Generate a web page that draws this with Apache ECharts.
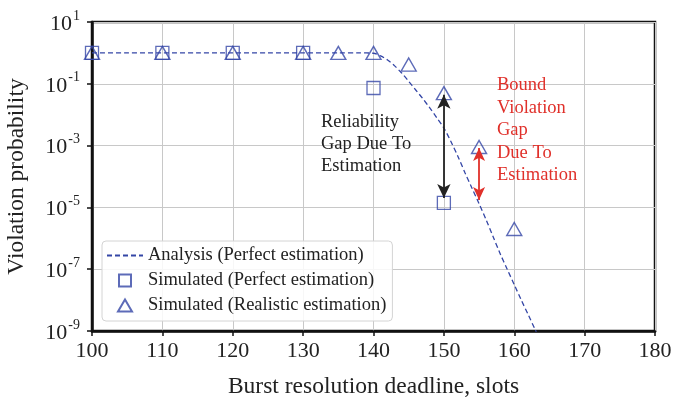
<!DOCTYPE html>
<html>
<head>
<meta charset="utf-8">
<script src="https://cdn.jsdelivr.net/npm/echarts@6/dist/echarts.min.js"></script>
<style>
html,body{margin:0;padding:0;background:#fff;}
#chart{width:674px;height:399px;}
</style>
</head>
<body>
<div id="chart"></div>
<script>
// ---- data ----
const analysisX = [100,105,110,115,120,125,130,135,138,139,140,141,142,143,144,145,146,147,148,149,150,151,152,153,154,155,156,157,158,159,160,161,162,163,164];
const analysisY = [1,1,1,1,1,1,1,1,1,0.995,0.975,0.80,0.59,0.38,0.224,0.12,0.0631,0.0331,0.0166,0.00794,0.00372,0.00135,4.47e-4,1.32e-4,4.17e-5,1.32e-5,3.98e-6,1.12e-6,3.16e-7,1.0e-7,3.16e-8,1.0e-8,3.31e-9,1.07e-9,3.5e-10];
const perfectX = [100,110,120,130,140,150];
const perfectY = [1,1,1,1,0.073,1.4e-5];
const realX = [100,110,120,130,135,140,145,150,155,160];
const realY = [1,1,1,1,1,1,0.42,0.05,9.0e-4,2.0e-6];
const gapBlack = [[150,0.044],[150,2.0e-5]];
const gapRed = [[155,8.3e-4],[155,1.75e-5]];
const xTicks = [100,110,120,130,140,150,160,170,180];
const yExponents = ['1','-1','-3','-5','-7','-9'];
const seriesNames = ['Analysis (Perfect estimation)','Simulated (Perfect estimation)','Simulated (Realistic estimation)'];
const textBlack = ['Reliability','Gap Due To','Estimation'];
const textRed = ['Bound','Violation','Gap','Due To','Estimation'];

const BLUE = '#3446a6';
const FONT = '"Liberation Serif","DejaVu Serif",serif';

const chart = echarts.init(document.getElementById('chart'), null, {renderer:'canvas'});
const zip = (xs, ys) => xs.map((x,i)=>[x, ys[i]]);

const option = {
  animation: false,
  backgroundColor: '#fff',
  textStyle: {fontFamily: FONT},
  grid: {left: 92, right: 19, top: 22, bottom: 68, containLabel: false, outerBoundsMode: 'none',
         show: true, borderColor: '#111', borderWidth: 2.5, backgroundColor: 'transparent'},
  legend: {
    orient: 'vertical', left: 102, top: 241,
    itemWidth: 36, itemHeight: 14, itemGap: 6,
    padding: [5, 6, 6, 4],
    borderColor: '#d4d4d4', borderWidth: 1, borderRadius: 4,
    backgroundColor: 'rgba(255,255,255,0.85)',
    textStyle: {fontFamily: FONT, fontSize: 18.5, color: '#222', lineHeight: 16},
    data: [
      {name: seriesNames[0]},
      {name: seriesNames[1], icon: 'path://M0,0 M36,14 M12,1 L24,1 L24,13 L12,13 Z'},
      {name: seriesNames[2], icon: 'path://M0,0 M36,14 M18,1 L25,13 L11,13 Z'}
    ]
  },
  xAxis: {
    type: 'value', min: xTicks[0], max: xTicks[xTicks.length-1], interval: 10,
    name: 'Burst resolution deadline, slots', nameLocation: 'middle', nameGap: 44,
    nameTextStyle: {fontFamily: FONT, fontSize: 23.5, color: '#222'},
    axisLine: {lineStyle: {color: '#111', width: 2.5}},
    axisTick: {show: true, length: 5, lineStyle: {color: '#111', width: 1.5}},
    axisLabel: {fontFamily: FONT, fontSize: 22, color: '#222', margin: 9},
    splitLine: {show: true, lineStyle: {color: '#c8c8c8', width: 1}}
  },
  yAxis: {
    type: 'log', logBase: 10, min: 1e-9, max: 10, interval: 2,
    name: 'Violation probability', nameLocation: 'middle', nameGap: 63,
    nameTextStyle: {fontFamily: FONT, fontSize: 23.5, color: '#222'},
    axisLine: {show: true, lineStyle: {color: '#111', width: 2.5}},
    axisTick: {show: true, length: 5, lineStyle: {color: '#111', width: 1.5}},
    minorTick: {show: false},
    axisLabel: {
      margin: 12, color: '#222',
      formatter: function (v) {
        const e = Math.round(Math.log10(v));
        const lab = yExponents.find(s => Number(s) === e) || String(e);
        return '{b|10}{s|' + lab + '}';
      },
      rich: {
        b: {fontFamily: FONT, fontSize: 22, color: '#222', lineHeight: 26, verticalAlign: 'bottom'},
        s: {fontFamily: FONT, fontSize: 14, color: '#222', lineHeight: 26, verticalAlign: 'top', padding: [0,0,0,1]}
      }
    },
    splitLine: {show: true, lineStyle: {color: '#c8c8c8', width: 1}}
  },
  series: [
    {
      name: seriesNames[0], type: 'line', data: zip(analysisX, analysisY),
      showSymbol: false, symbol: 'none', smooth: 0.3, clip: true,
      lineStyle: {color: BLUE, width: 1.3, type: [5, 3]},
      itemStyle: {color: 'rgba(0,0,0,0)', borderWidth: 0},
      z: 3
    },
    {
      name: seriesNames[1], type: 'scatter', data: zip(perfectX, perfectY),
      symbol: 'rect', symbolSize: 13,
      itemStyle: {color: 'rgba(255,255,255,0)', borderColor: BLUE, borderWidth: 1.3},
      z: 4,
      markLine: {
        silent: true, symbol: ['arrow','arrow'], symbolSize: [10, 14],
        label: {show: false},
        lineStyle: {color: '#222', width: 1.8, type: 'solid'},
        data: [[{coord: gapBlack[0]}, {coord: gapBlack[1]}]]
      }
    },
    {
      name: seriesNames[2], type: 'scatter', data: zip(realX, realY),
      symbol: 'triangle', symbolSize: [15, 13],
      itemStyle: {color: 'rgba(255,255,255,0)', borderColor: BLUE, borderWidth: 1.4},
      z: 4,
      markLine: {
        silent: true, symbol: ['arrow','arrow'], symbolSize: [9, 13],
        label: {show: false},
        lineStyle: {color: '#e0302a', width: 1.8, type: 'solid'},
        data: [[{coord: gapRed[0]}, {coord: gapRed[1]}]]
      }
    }
  ],
  graphic: [
    {type: 'text', left: 321, top: 111, z: 10,
     style: {text: textBlack.join('\n'), font: '18.5px ' + FONT, fill: '#222', lineHeight: 22}},
    {type: 'text', left: 497, top: 74, z: 10,
     style: {text: textRed.join('\n'), font: '18.5px ' + FONT, fill: '#e0302a', lineHeight: 22.5}}
  ]
};
chart.setOption(option);
</script>
</body>
</html>
